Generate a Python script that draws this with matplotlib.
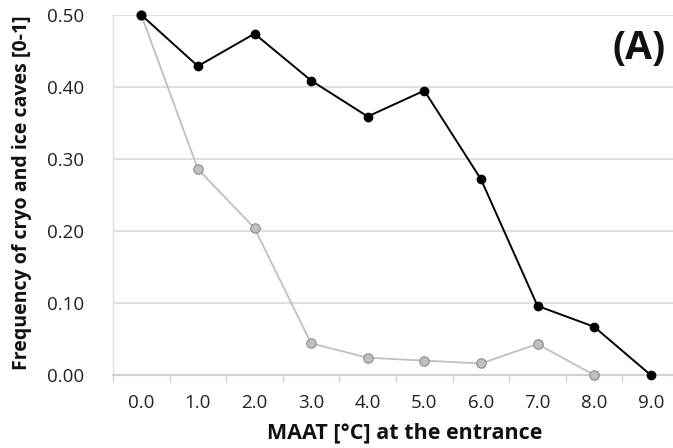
import matplotlib
matplotlib.use("Agg")
import matplotlib.pyplot as plt

categories = ["0.0", "1.0", "2.0", "3.0", "4.0", "5.0", "6.0", "7.0", "8.0", "9.0"]
series_black = [0.500, 0.429, 0.474, 0.409, 0.359, 0.395, 0.272, 0.096, 0.067, 0.000]
series_gray = [0.500, 0.286, 0.204, 0.044, 0.024, 0.020, 0.016, 0.043, 0.000]
yticks = [0.0, 0.1, 0.2, 0.3, 0.4, 0.5]
ytick_labels = ["0.00", "0.10", "0.20", "0.30", "0.40", "0.50"]

plt.rcParams['font.family'] = ['Open Sans', 'DejaVu Sans']

fig = plt.figure(figsize=(6.73, 4.48), dpi=100)
W, H = 673, 448
left, right, top, bottom = 113, 679, 15, 375
ax = fig.add_axes([left / W, 1 - bottom / H, (right - left) / W, (bottom - top) / H])

xs = list(range(len(categories)))
ax.plot(xs[:len(series_gray)], series_gray, color="#bfbfbf", lw=1.3, marker="o",
        ms=6.8, mfc="#c0c0c0", mec="#8c8c8c", mew=0.8, clip_on=False, zorder=3)
ax.plot(xs, series_black, color="#000000", lw=1.4, marker="o",
        ms=6.0, mfc="#000000", mec="#000000", clip_on=False, zorder=4)

ax.set_xlim(-0.5, 9.5)
ax.set_ylim(0, 0.5)
ax.set_yticks(yticks)
ax.set_yticklabels(ytick_labels, fontsize=13.5, color="#222222")
ax.set_xticks(xs)
ax.set_xticklabels(categories, fontsize=13.5, color="#222222")
ax.tick_params(axis="y", length=0, pad=21)
ax.tick_params(axis="x", which="major", length=0, pad=14)
ax.set_xticks([i - 0.5 for i in range(len(categories) + 1)], minor=True)
ax.tick_params(axis="x", which="minor", length=5, width=1, color="#d0d0d0", direction="out")

ax.grid(axis="y", color="#d9d9d9", lw=1.2)
ax.set_axisbelow(True)
for s in ["top", "right"]:
    ax.spines[s].set_visible(False)
ax.spines["bottom"].set_color("#d0d0d0")
ax.spines["bottom"].set_linewidth(1.5)
ax.spines["left"].set_color("#e0e0e0")
ax.spines["left"].set_linestyle((0, (1, 1)))
ax.spines["left"].set_linewidth(1)

fig.text(405 / W, 1 - 433 / H, "MAAT [°C] at the entrance", fontsize=15.5,
         fontweight="bold", ha="center", va="center", color="#111111")
fig.text(22 / W, 1 - 193 / H, "Frequency of cryo and ice caves [0-1]", fontsize=14,
         fontweight="bold", ha="center", va="center", rotation=90, color="#111111")
fig.text(639 / W, 1 - 48 / H, "(A)", fontsize=28, fontweight="bold",
         ha="center", va="center", color="#111111")

fig.savefig("out.png", dpi=100)
